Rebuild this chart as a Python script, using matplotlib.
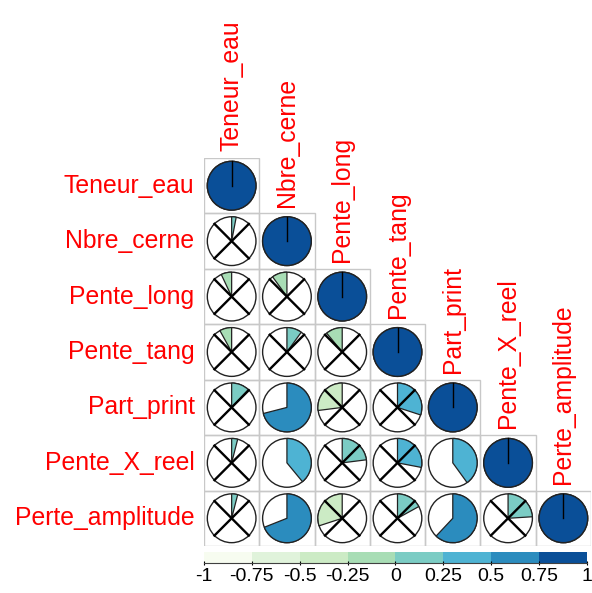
import numpy as np
import matplotlib
matplotlib.use('Agg')
from matplotlib import pyplot as plt
from matplotlib import patches
from matplotlib.colors import ListedColormap, BoundaryNorm

plt.rcParams['font.family'] = ['Liberation Sans', 'DejaVu Sans']

names = ['Teneur_eau', 'Nbre_cerne', 'Pente_long', 'Pente_tang',
         'Part_print', 'Pente_X_reel', 'Perte_amplitude']

# lower triangle of the correlation matrix (row by row, without diagonal)
r_nbre = [0.03]
r_plong = [-0.07, -0.10]
r_ptang = [-0.08, 0.10, -0.11]
r_pprint = [0.12, 0.71, -0.27, 0.30]
r_pxreel = [0.04, 0.39, 0.23, 0.28, 0.40]
r_pampl = [0.04, 0.69, -0.30, 0.17, 0.62, 0.24]
lower = [[], r_nbre, r_plong, r_ptang, r_pprint, r_pxreel, r_pampl]

# cells with a significant correlation (no cross)
signif = [(4, 1), (5, 1), (5, 4), (6, 1), (6, 4)]

cbar_ticks = [-1, -0.75, -0.5, -0.25, 0, 0.25, 0.5, 0.75, 1]
colors = ['#F7FCF0', '#E0F3DB', '#CCEBC5', '#A8DDB5',
          '#7BCCC4', '#4EB3D3', '#2B8CBE', '#0A4F98']

n = len(names)
corr = np.eye(n)
for i, row in enumerate(lower):
    for j, v in enumerate(row):
        corr[i, j] = v

cmap = ListedColormap(colors)
norm = BoundaryNorm(np.linspace(-1, 1, 9), cmap.N)

W, H = 592, 593
fig = plt.figure(figsize=(W / 100, H / 100), dpi=100)
ax = fig.add_axes([204 / W, 1 - 546 / H, 387 / W, 388 / H])
ax.set_xlim(0.5, n + 0.5)
ax.set_ylim(n + 0.5, 0.5)
ax.axis('off')

rad = 0.44
for i in range(n):
    for j in range(i + 1):
        x, y = j + 1, i + 1
        ax.add_patch(patches.Rectangle((x - 0.5, y - 0.5), 1, 1, fill=False,
                                       edgecolor='#c8c8c8', lw=1.0))
        v = corr[i, j]
        col = cmap(norm(v))
        ax.add_patch(patches.Circle((x, y), rad, facecolor='white',
                                    edgecolor='#222222', lw=1.0))
        # y axis is inverted, so angles are mirrored
        if v >= 0:
            t1, t2 = -90, -90 + 360 * v
        else:
            t1, t2 = -90 - 360 * abs(v), -90
        if abs(v) >= 0.999:
            ax.add_patch(patches.Circle((x, y), rad, facecolor=col,
                                        edgecolor='#222222', lw=1.0))
            ax.plot([x, x], [y, y - rad], color='black', lw=1.0)
        else:
            ax.add_patch(patches.Wedge((x, y), rad, t1, t2, facecolor=col,
                                       edgecolor='#222222', lw=0.9))
        if i != j and (i, j) not in signif:
            d = rad / np.sqrt(2)
            ax.plot([x - d, x + d], [y - d, y + d], color='black', lw=1.7)
            ax.plot([x - d, x + d], [y + d, y - d], color='black', lw=1.7)

for k, name in enumerate(names):
    ax.text(0.33, k + 1, name, color='red', fontsize=17.8,
            ha='right', va='center')
    ax.text(k + 1, k + 0.5 - 0.12, name, color='red', fontsize=17.8,
            rotation=90, ha='center', va='bottom')

# colour legend
cax = fig.add_axes([204 / W, 1 - 563 / H, 383 / W, 11 / H])
edges = np.linspace(-1, 1, 9)
for k in range(8):
    cax.add_patch(patches.Rectangle((edges[k], 0), 0.25, 1,
                                    facecolor=colors[k], edgecolor='none'))
cax.set_xlim(-1, 1)
cax.set_ylim(0, 1)
cax.set_yticks([])
for s in ['top', 'right', 'left']:
    cax.spines[s].set_visible(False)
cax.spines['bottom'].set_color('#404040')
cax.spines['bottom'].set_linewidth(0.8)
cax.set_xticks(cbar_ticks)
cax.set_xticklabels([('%g' % t) for t in cbar_ticks], fontsize=14)
cax.tick_params(axis='x', length=3, width=0.8, pad=2, direction='inout')

fig.savefig('out.png', dpi=100)
